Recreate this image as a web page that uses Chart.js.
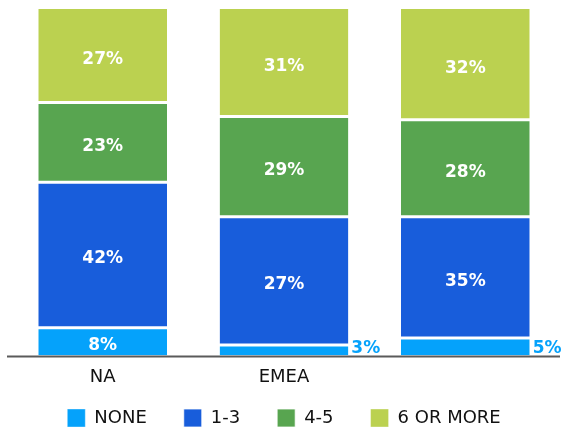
<!DOCTYPE html>
<html>
<head>
<meta charset="utf-8">
<script src="https://cdn.jsdelivr.net/npm/chart.js@4/dist/chart.umd.min.js"></script>
<style>
  html, body { margin: 0; padding: 0; background: #fff; }
  #wrap { width: 561px; height: 430px; }
</style>
</head>
<body>
<div id="wrap"><canvas id="chart"></canvas></div>
<script>
"use strict";

// regions (third one has no label in the original)
let regions = ["NA", "EMEA", ""];

let none_vals = [8, 3, 5];
let one_three_vals = [42, 37, 35];
let four_five_vals = [23, 29, 28];
let six_more_vals = [27, 31, 32];

// texts printed on the segments
let none_txt = ["8%", "3%", "5%"];
let one_three_txt = ["42%", "27%", "35%"];
let four_five_txt = ["23%", "29%", "28%"];
let six_more_txt = ["27%", "31%", "32%"];

let series_names = ["NONE", "1-3", "4-5", "6 OR MORE"];
let series_colors = ["#05a2fb", "#185ddb", "#58a550", "#bbd150"];

let all_vals = [none_vals, one_three_vals, four_five_vals, six_more_vals];
let all_txt = [none_txt, one_three_txt, four_five_txt, six_more_txt];

let datasets = [];
for (let i = 0; i < all_vals.length; i++)
{
    let last = i === all_vals.length - 1;
    datasets.push({
        label: series_names[i],
        data: all_vals[i],
        backgroundColor: series_colors[i],
        borderColor: "#ffffff",
        borderWidth: {top: last ? 0 : 1.5, left: 0, right: 0, bottom: i === 0 ? 0 : 1.5},
        borderSkipped: false,
        barPercentage: 0.71,
        categoryPercentage: 1.0
    });
}

// percent labels, small ones go to the right of the bar
let segLabels = {
    id: "segLabels",
    afterDatasetsDraw(chart)
    {
        let ctx = chart.ctx;
        ctx.save();
        ctx.font = "bold 17px 'DejaVu Sans'";
        chart.data.datasets.forEach(function (ds, di)
        {
            let meta = chart.getDatasetMeta(di);
            meta.data.forEach(function (bar, i)
            {
                let txt = all_txt[di][i];
                if (ds.data[i] < 6)
                {
                    ctx.fillStyle = series_colors[di];
                    ctx.textAlign = "left";
                    ctx.textBaseline = "alphabetic";
                    ctx.fillText(txt, bar.x + bar.width / 2 + 3, bar.base - 2);
                }
                else
                {
                    ctx.fillStyle = "#ffffff";
                    ctx.textAlign = "center";
                    ctx.textBaseline = "middle";
                    ctx.fillText(txt, bar.x, (bar.y + bar.base) / 2 + 4);
                }
            });
        });
        ctx.restore();
    }
};

// baseline under the bars, a bit wider than the plot
let baseLine = {
    id: "baseLine",
    afterDatasetsDraw(chart)
    {
        let ctx = chart.ctx;
        let a = chart.chartArea;
        ctx.save();
        ctx.strokeStyle = "#5a5a5a";
        ctx.lineWidth = 2;
        ctx.beginPath();
        ctx.moveTo(a.left - 5, a.bottom + 1);
        ctx.lineTo(a.right + 4, a.bottom + 1);
        ctx.stroke();
        ctx.restore();
    }
};

// legend: wide gaps between items but sitting close to the axis labels
let legendFix = {
    id: "legendFix",
    beforeLayout(chart)
    {
        let lg = chart.legend;
        if (lg && !lg.patched)
        {
            let fit = lg.fit;
            lg.fit = function ()
            {
                fit.call(this);
                this.height -= 35;
            };
            lg.patched = true;
        }
    },
    afterLayout(chart)
    {
        chart.legend.top -= 28;
    }
};

let ctxChart = document.getElementById("chart").getContext("2d");
let chart = new Chart(ctxChart, {
    type: "bar",
    data: {
        labels: regions,
        datasets: datasets
    },
    plugins: [segLabels, baseLine, legendFix],
    options: {
        responsive: true,
        maintainAspectRatio: false,
        animation: false,
        layout: {
            padding: {left: 12, right: 5, top: 9, bottom: 0}
        },
        scales: {
            x: {
                stacked: true,
                grid: {display: false, drawTicks: false},
                border: {display: false},
                ticks: {
                    padding: 11.5,
                    color: "#111111",
                    font: {family: "'DejaVu Sans'", size: 18}
                }
            },
            y: {
                stacked: true,
                display: false,
                min: 0,
                max: 100
            }
        },
        plugins: {
            tooltip: {enabled: false},
            legend: {
                position: "bottom",
                labels: {
                    boxWidth: 18,
                    boxHeight: 18,
                    padding: 37,
                    color: "#111111",
                    font: {family: "'DejaVu Sans'", size: 18}
                }
            }
        }
    }
});
</script>
</body>
</html>
